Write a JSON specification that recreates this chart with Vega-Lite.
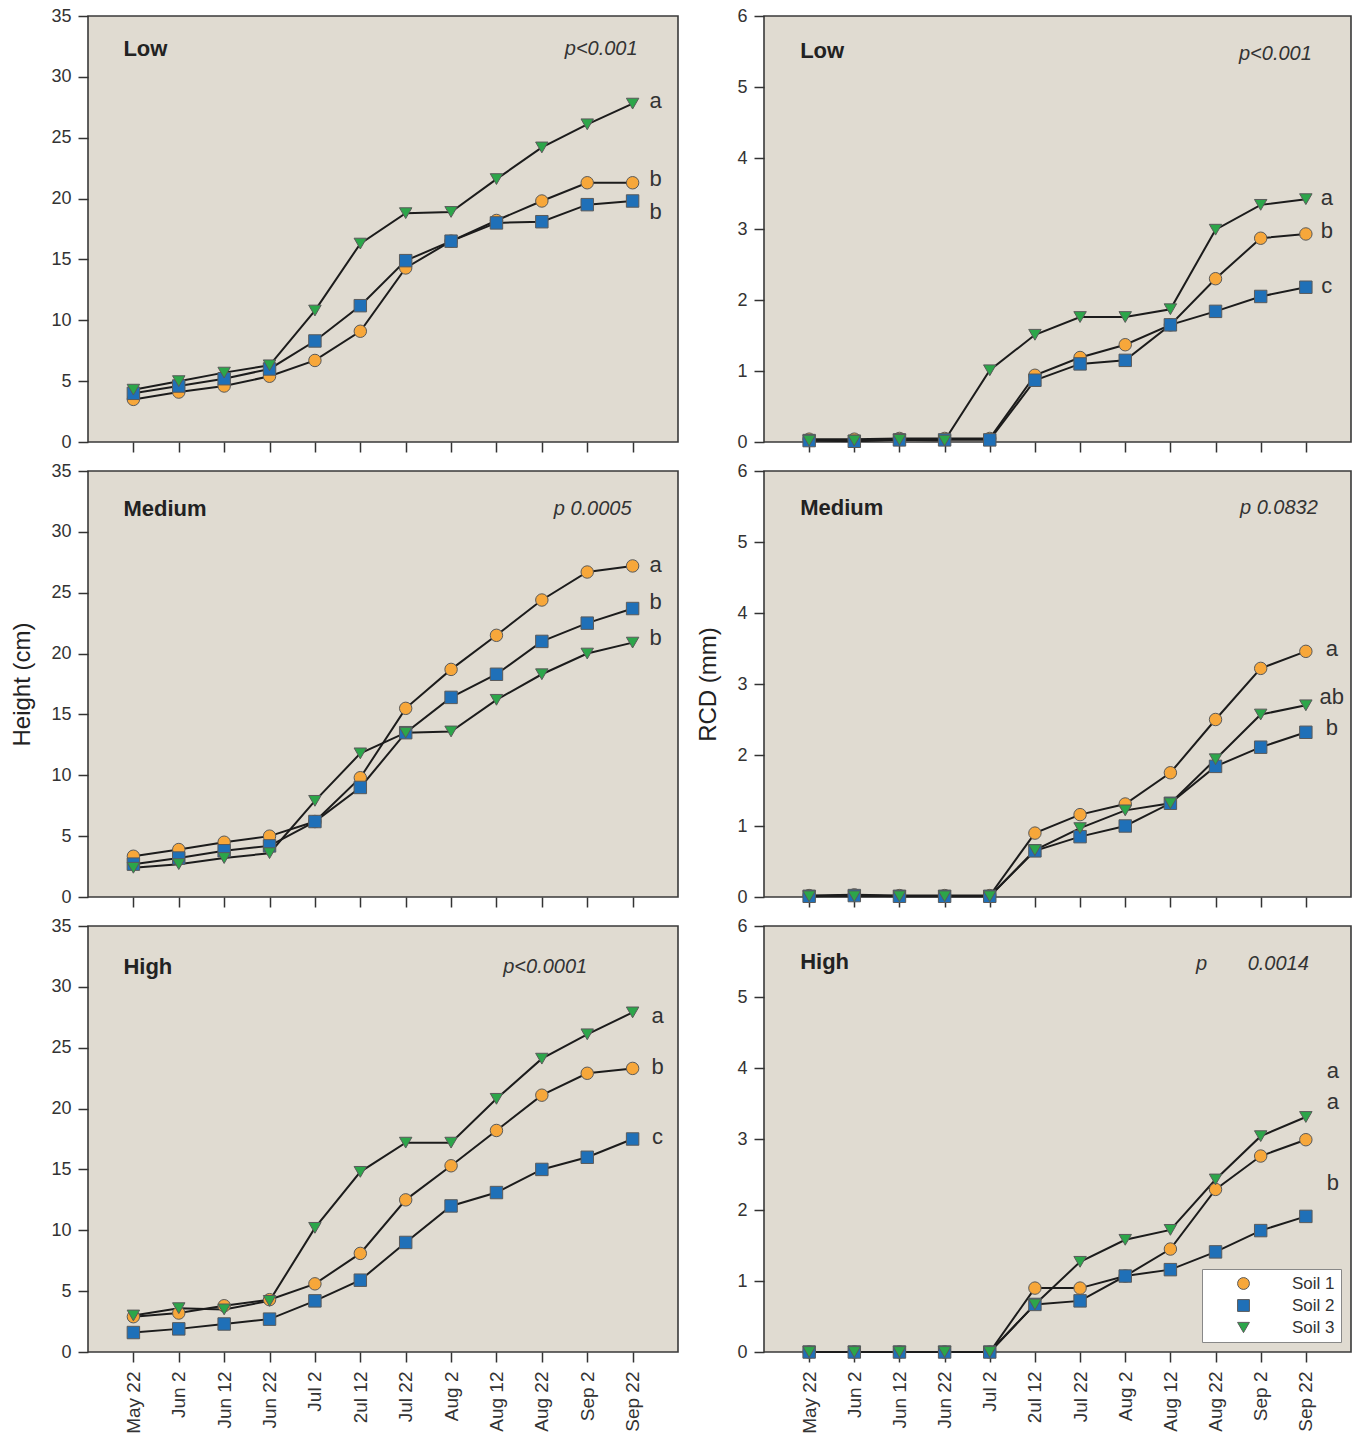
{
  "$schema": "https://vega.github.io/schema/vega-lite/v6.json",
  "background": "white",
  "padding": {"left": 10, "top": 6, "right": 5, "bottom": 2},
  "config": {
    "font": "Liberation Sans",
    "view": {"stroke": "#3a3a3a", "strokeWidth": 1.6, "fill": "#e0dbd1"},
    "axis": {"grid": false, "domain": false, "labelFontSize": 18, "labelColor": "#333", "tickColor": "#333", "tickSize": 10, "tickWidth": 1.5, "labelPadding": 7, "titleFontSize": 24, "titleFontWeight": "normal", "titleColor": "#222", "titlePadding": 16}
  },
  "datasets": {
    "series": [
      {"m":"Height","lvl":"Low","date":"May 22","Soil 1":3.5,"Soil 2":4.0,"Soil 3":4.3},
      {"m":"Height","lvl":"Low","date":"Jun 2","Soil 1":4.1,"Soil 2":4.6,"Soil 3":5.0},
      {"m":"Height","lvl":"Low","date":"Jun 12","Soil 1":4.6,"Soil 2":5.2,"Soil 3":5.7},
      {"m":"Height","lvl":"Low","date":"Jun 22","Soil 1":5.4,"Soil 2":6.0,"Soil 3":6.3},
      {"m":"Height","lvl":"Low","date":"Jul 2","Soil 1":6.7,"Soil 2":8.3,"Soil 3":10.8},
      {"m":"Height","lvl":"Low","date":"Jul 12","Soil 1":9.1,"Soil 2":11.2,"Soil 3":16.3},
      {"m":"Height","lvl":"Low","date":"Jul 22","Soil 1":14.3,"Soil 2":14.9,"Soil 3":18.8},
      {"m":"Height","lvl":"Low","date":"Aug 2","Soil 1":16.5,"Soil 2":16.5,"Soil 3":18.9},
      {"m":"Height","lvl":"Low","date":"Aug 12","Soil 1":18.2,"Soil 2":18.0,"Soil 3":21.6},
      {"m":"Height","lvl":"Low","date":"Aug 22","Soil 1":19.8,"Soil 2":18.1,"Soil 3":24.2},
      {"m":"Height","lvl":"Low","date":"Sep 2","Soil 1":21.3,"Soil 2":19.5,"Soil 3":26.1},
      {"m":"Height","lvl":"Low","date":"Sep 22","Soil 1":21.3,"Soil 2":19.8,"Soil 3":27.8},
      {"m":"Height","lvl":"Medium","date":"May 22","Soil 1":3.35,"Soil 2":2.7,"Soil 3":2.4},
      {"m":"Height","lvl":"Medium","date":"Jun 2","Soil 1":3.9,"Soil 2":3.2,"Soil 3":2.7},
      {"m":"Height","lvl":"Medium","date":"Jun 12","Soil 1":4.5,"Soil 2":3.8,"Soil 3":3.2},
      {"m":"Height","lvl":"Medium","date":"Jun 22","Soil 1":5.0,"Soil 2":4.2,"Soil 3":3.6},
      {"m":"Height","lvl":"Medium","date":"Jul 2","Soil 1":6.2,"Soil 2":6.2,"Soil 3":7.9},
      {"m":"Height","lvl":"Medium","date":"Jul 12","Soil 1":9.8,"Soil 2":9.0,"Soil 3":11.8},
      {"m":"Height","lvl":"Medium","date":"Jul 22","Soil 1":15.5,"Soil 2":13.5,"Soil 3":13.5},
      {"m":"Height","lvl":"Medium","date":"Aug 2","Soil 1":18.7,"Soil 2":16.4,"Soil 3":13.6},
      {"m":"Height","lvl":"Medium","date":"Aug 12","Soil 1":21.5,"Soil 2":18.3,"Soil 3":16.2},
      {"m":"Height","lvl":"Medium","date":"Aug 22","Soil 1":24.4,"Soil 2":21.0,"Soil 3":18.3},
      {"m":"Height","lvl":"Medium","date":"Sep 2","Soil 1":26.7,"Soil 2":22.5,"Soil 3":20.0},
      {"m":"Height","lvl":"Medium","date":"Sep 22","Soil 1":27.2,"Soil 2":23.7,"Soil 3":20.9},
      {"m":"Height","lvl":"High","date":"May 22","Soil 1":2.9,"Soil 2":1.6,"Soil 3":3.0},
      {"m":"Height","lvl":"High","date":"Jun 2","Soil 1":3.2,"Soil 2":1.9,"Soil 3":3.6},
      {"m":"Height","lvl":"High","date":"Jun 12","Soil 1":3.8,"Soil 2":2.3,"Soil 3":3.5},
      {"m":"Height","lvl":"High","date":"Jun 22","Soil 1":4.3,"Soil 2":2.7,"Soil 3":4.2},
      {"m":"Height","lvl":"High","date":"Jul 2","Soil 1":5.6,"Soil 2":4.2,"Soil 3":10.2},
      {"m":"Height","lvl":"High","date":"Jul 12","Soil 1":8.1,"Soil 2":5.9,"Soil 3":14.8},
      {"m":"Height","lvl":"High","date":"Jul 22","Soil 1":12.5,"Soil 2":9.0,"Soil 3":17.2},
      {"m":"Height","lvl":"High","date":"Aug 2","Soil 1":15.3,"Soil 2":12.0,"Soil 3":17.2},
      {"m":"Height","lvl":"High","date":"Aug 12","Soil 1":18.2,"Soil 2":13.1,"Soil 3":20.8},
      {"m":"Height","lvl":"High","date":"Aug 22","Soil 1":21.1,"Soil 2":15.0,"Soil 3":24.1},
      {"m":"Height","lvl":"High","date":"Sep 2","Soil 1":22.9,"Soil 2":16.0,"Soil 3":26.1},
      {"m":"Height","lvl":"High","date":"Sep 22","Soil 1":23.3,"Soil 2":17.5,"Soil 3":27.9},
      {"m":"RCD","lvl":"Low","date":"May 22","Soil 1":0.04,"Soil 2":0.02,"Soil 3":0.02},
      {"m":"RCD","lvl":"Low","date":"Jun 2","Soil 1":0.04,"Soil 2":0.01,"Soil 3":0.02},
      {"m":"RCD","lvl":"Low","date":"Jun 12","Soil 1":0.05,"Soil 2":0.03,"Soil 3":0.03},
      {"m":"RCD","lvl":"Low","date":"Jun 22","Soil 1":0.05,"Soil 2":0.03,"Soil 3":0.02},
      {"m":"RCD","lvl":"Low","date":"Jul 2","Soil 1":0.05,"Soil 2":0.03,"Soil 3":1.01},
      {"m":"RCD","lvl":"Low","date":"Jul 12","Soil 1":0.94,"Soil 2":0.87,"Soil 3":1.51},
      {"m":"RCD","lvl":"Low","date":"Jul 22","Soil 1":1.19,"Soil 2":1.10,"Soil 3":1.76},
      {"m":"RCD","lvl":"Low","date":"Aug 2","Soil 1":1.37,"Soil 2":1.15,"Soil 3":1.76},
      {"m":"RCD","lvl":"Low","date":"Aug 12","Soil 1":1.65,"Soil 2":1.65,"Soil 3":1.87},
      {"m":"RCD","lvl":"Low","date":"Aug 22","Soil 1":2.30,"Soil 2":1.84,"Soil 3":2.99},
      {"m":"RCD","lvl":"Low","date":"Sep 2","Soil 1":2.87,"Soil 2":2.05,"Soil 3":3.34},
      {"m":"RCD","lvl":"Low","date":"Sep 22","Soil 1":2.93,"Soil 2":2.18,"Soil 3":3.42},
      {"m":"RCD","lvl":"Medium","date":"May 22","Soil 1":0.02,"Soil 2":0.01,"Soil 3":0.01},
      {"m":"RCD","lvl":"Medium","date":"Jun 2","Soil 1":0.03,"Soil 2":0.02,"Soil 3":0.01},
      {"m":"RCD","lvl":"Medium","date":"Jun 12","Soil 1":0.02,"Soil 2":0.01,"Soil 3":0.01},
      {"m":"RCD","lvl":"Medium","date":"Jun 22","Soil 1":0.02,"Soil 2":0.01,"Soil 3":0.01},
      {"m":"RCD","lvl":"Medium","date":"Jul 2","Soil 1":0.02,"Soil 2":0.01,"Soil 3":0.01},
      {"m":"RCD","lvl":"Medium","date":"Jul 12","Soil 1":0.9,"Soil 2":0.65,"Soil 3":0.66},
      {"m":"RCD","lvl":"Medium","date":"Jul 22","Soil 1":1.16,"Soil 2":0.85,"Soil 3":0.97},
      {"m":"RCD","lvl":"Medium","date":"Aug 2","Soil 1":1.31,"Soil 2":1.0,"Soil 3":1.22},
      {"m":"RCD","lvl":"Medium","date":"Aug 12","Soil 1":1.75,"Soil 2":1.32,"Soil 3":1.32},
      {"m":"RCD","lvl":"Medium","date":"Aug 22","Soil 1":2.5,"Soil 2":1.84,"Soil 3":1.94},
      {"m":"RCD","lvl":"Medium","date":"Sep 2","Soil 1":3.22,"Soil 2":2.11,"Soil 3":2.57},
      {"m":"RCD","lvl":"Medium","date":"Sep 22","Soil 1":3.46,"Soil 2":2.32,"Soil 3":2.7},
      {"m":"RCD","lvl":"High","date":"May 22","Soil 1":0.0,"Soil 2":0.0,"Soil 3":0.0},
      {"m":"RCD","lvl":"High","date":"Jun 2","Soil 1":0.0,"Soil 2":0.0,"Soil 3":0.0},
      {"m":"RCD","lvl":"High","date":"Jun 12","Soil 1":0.0,"Soil 2":0.0,"Soil 3":0.0},
      {"m":"RCD","lvl":"High","date":"Jun 22","Soil 1":0.0,"Soil 2":0.0,"Soil 3":0.0},
      {"m":"RCD","lvl":"High","date":"Jul 2","Soil 1":0.0,"Soil 2":0.0,"Soil 3":0.0},
      {"m":"RCD","lvl":"High","date":"Jul 12","Soil 1":0.9,"Soil 2":0.67,"Soil 3":0.67},
      {"m":"RCD","lvl":"High","date":"Jul 22","Soil 1":0.9,"Soil 2":0.72,"Soil 3":1.27},
      {"m":"RCD","lvl":"High","date":"Aug 2","Soil 1":1.07,"Soil 2":1.07,"Soil 3":1.58},
      {"m":"RCD","lvl":"High","date":"Aug 12","Soil 1":1.45,"Soil 2":1.16,"Soil 3":1.72},
      {"m":"RCD","lvl":"High","date":"Aug 22","Soil 1":2.29,"Soil 2":1.41,"Soil 3":2.43},
      {"m":"RCD","lvl":"High","date":"Sep 2","Soil 1":2.76,"Soil 2":1.71,"Soil 3":3.04},
      {"m":"RCD","lvl":"High","date":"Sep 22","Soil 1":2.99,"Soil 2":1.91,"Soil 3":3.31}
    ],
    "notes": [
      {"m":"Height","lvl":"Low","k":"title","date":"May 22","value":32.3,"t":"Low"},
      {"m":"Height","lvl":"Low","k":"p","date":"Sep 22","value":32.3,"t":"p<0.001"},
      {"m":"Height","lvl":"Low","k":"letter","date":"Sep 22","value":28.0,"t":"a"},
      {"m":"Height","lvl":"Low","k":"letter","date":"Sep 22","value":21.6,"t":"b"},
      {"m":"Height","lvl":"Low","k":"letter","date":"Sep 22","value":18.9,"t":"b"},
      {"m":"Height","lvl":"Medium","k":"title","date":"May 22","value":31.9,"t":"Medium"},
      {"m":"Height","lvl":"Medium","k":"p","date":"Sep 22","value":31.9,"t":"p 0.0005"},
      {"m":"Height","lvl":"Medium","k":"letter","date":"Sep 22","value":27.3,"t":"a"},
      {"m":"Height","lvl":"Medium","k":"letter","date":"Sep 22","value":24.2,"t":"b"},
      {"m":"Height","lvl":"Medium","k":"letter","date":"Sep 22","value":21.3,"t":"b"},
      {"m":"Height","lvl":"High","k":"title","date":"May 22","value":31.6,"t":"High"},
      {"m":"Height","lvl":"High","k":"p","date":"Sep 2","value":31.6,"t":"p<0.0001"},
      {"m":"Height","lvl":"High","k":"letter","date":"Sep 22","value":27.6,"t":"a"},
      {"m":"Height","lvl":"High","k":"letter","date":"Sep 22","value":23.4,"t":"b"},
      {"m":"Height","lvl":"High","k":"letter","date":"Sep 22","value":17.7,"t":"c"},
      {"m":"RCD","lvl":"Low","k":"title","date":"May 22","value":5.51,"t":"Low"},
      {"m":"RCD","lvl":"Low","k":"p","date":"Sep 22","value":5.47,"t":"p<0.001"},
      {"m":"RCD","lvl":"Low","k":"letter","date":"Sep 22","value":3.43,"t":"a"},
      {"m":"RCD","lvl":"Low","k":"letter","date":"Sep 22","value":2.97,"t":"b"},
      {"m":"RCD","lvl":"Low","k":"letter","date":"Sep 22","value":2.2,"t":"c"},
      {"m":"RCD","lvl":"Medium","k":"title","date":"May 22","value":5.48,"t":"Medium"},
      {"m":"RCD","lvl":"Medium","k":"p","date":"Sep 22","value":5.48,"t":"p 0.0832"},
      {"m":"RCD","lvl":"Medium","k":"letter","date":"Sep 22","value":3.49,"t":"a"},
      {"m":"RCD","lvl":"Medium","k":"letter","date":"Sep 22","value":2.82,"t":"ab"},
      {"m":"RCD","lvl":"Medium","k":"letter","date":"Sep 22","value":2.38,"t":"b"},
      {"m":"RCD","lvl":"High","k":"title","date":"May 22","value":5.5,"t":"High"},
      {"m":"RCD","lvl":"High","k":"p0","date":"Aug 22","value":5.47,"t":"p"},
      {"m":"RCD","lvl":"High","k":"p","date":"Sep 22","value":5.47,"t":"0.0014"},
      {"m":"RCD","lvl":"High","k":"letter","date":"Sep 22","value":3.96,"t":"a"},
      {"m":"RCD","lvl":"High","k":"letter","date":"Sep 22","value":3.52,"t":"a"},
      {"m":"RCD","lvl":"High","k":"letter","date":"Sep 22","value":2.38,"t":"b"}
    ]
  },
  "spacing": 17,
  "resolve": {"legend": {"color": "independent", "shape": "independent"}},
  "hconcat": [
    {
      "spacing": 29,
      "bounds": "flush",
      "resolve": {"legend": {"color": "independent", "shape": "independent"}},
      "vconcat": [
        {
          "width": 590, "height": 426,
          "encoding": {
            "x": {"field": "date", "type": "ordinal", "sort": ["May 22","Jun 2","Jun 12","Jun 22","Jul 2","Jul 12","Jul 22","Aug 2","Aug 12","Aug 22","Sep 2","Sep 22"], "scale": {"type": "point", "padding": 1}, "axis": {"labels": false, "title": null}},
            "y": {"field": "value", "type": "quantitative", "scale": {"domain": [0, 35], "nice": false}, "axis": {"values": [0,5,10,15,20,25,30,35], "title": null}}
          },
          "layer": [
            {"data": {"name": "series"}, "transform": [{"filter": "datum.m === 'Height' && datum.lvl === 'Low'"}, {"fold": ["Soil 1","Soil 2","Soil 3"], "as": ["soil","value"]}],
             "layer": [
               {"mark": {"type": "line", "color": "#1c1c1c", "strokeWidth": 2}, "encoding": {"detail": {"field": "soil", "type": "nominal"}}},
               {"mark": {"type": "point", "filled": true, "size": 155, "stroke": "#5a5a5a", "strokeWidth": 1, "opacity": 1},
                "encoding": {"color": {"field": "soil", "type": "nominal", "scale": {"domain": ["Soil 1","Soil 2","Soil 3"], "range": ["#f7a73a","#1f70b8","#2ca64a"]}, "legend": null},
                             "shape": {"field": "soil", "type": "nominal", "scale": {"domain": ["Soil 1","Soil 2","Soil 3"], "range": ["circle","square","triangle-down"]}, "legend": null}}}
             ]},
            {"data": {"name": "notes"}, "transform": [{"filter": "datum.m === 'Height' && datum.lvl === 'Low' && datum.k === 'title'"}], "mark": {"type": "text", "align": "left", "dx": -10, "fontSize": 22, "fontWeight": "bold", "color": "#222"}, "encoding": {"text": {"field": "t"}}},
            {"data": {"name": "notes"}, "transform": [{"filter": "datum.m === 'Height' && datum.lvl === 'Low' && datum.k === 'p'"}], "mark": {"type": "text", "align": "right", "dx": 5, "fontSize": 20, "fontStyle": "italic", "color": "#333"}, "encoding": {"text": {"field": "t"}}},
            {"data": {"name": "notes"}, "transform": [{"filter": "datum.m === 'Height' && datum.lvl === 'Low' && datum.k === 'letter'"}], "mark": {"type": "text", "align": "center", "dx": 23, "fontSize": 22, "color": "#333"}, "encoding": {"text": {"field": "t"}}}
          ]
        },
        {
          "width": 590, "height": 426,
          "encoding": {
            "x": {"field": "date", "type": "ordinal", "sort": ["May 22","Jun 2","Jun 12","Jun 22","Jul 2","Jul 12","Jul 22","Aug 2","Aug 12","Aug 22","Sep 2","Sep 22"], "scale": {"type": "point", "padding": 1}, "axis": {"labels": false, "title": null}},
            "y": {"field": "value", "type": "quantitative", "scale": {"domain": [0, 35], "nice": false}, "axis": {"values": [0,5,10,15,20,25,30,35], "title": "Height (cm)"}}
          },
          "layer": [
            {"data": {"name": "series"}, "transform": [{"filter": "datum.m === 'Height' && datum.lvl === 'Medium'"}, {"fold": ["Soil 1","Soil 2","Soil 3"], "as": ["soil","value"]}],
             "layer": [
               {"mark": {"type": "line", "color": "#1c1c1c", "strokeWidth": 2}, "encoding": {"detail": {"field": "soil", "type": "nominal"}}},
               {"mark": {"type": "point", "filled": true, "size": 155, "stroke": "#5a5a5a", "strokeWidth": 1, "opacity": 1},
                "encoding": {"color": {"field": "soil", "type": "nominal", "scale": {"domain": ["Soil 1","Soil 2","Soil 3"], "range": ["#f7a73a","#1f70b8","#2ca64a"]}, "legend": null},
                             "shape": {"field": "soil", "type": "nominal", "scale": {"domain": ["Soil 1","Soil 2","Soil 3"], "range": ["circle","square","triangle-down"]}, "legend": null}}}
             ]},
            {"data": {"name": "notes"}, "transform": [{"filter": "datum.m === 'Height' && datum.lvl === 'Medium' && datum.k === 'title'"}], "mark": {"type": "text", "align": "left", "dx": -10, "fontSize": 22, "fontWeight": "bold", "color": "#222"}, "encoding": {"text": {"field": "t"}}},
            {"data": {"name": "notes"}, "transform": [{"filter": "datum.m === 'Height' && datum.lvl === 'Medium' && datum.k === 'p'"}], "mark": {"type": "text", "align": "right", "dx": -1, "fontSize": 20, "fontStyle": "italic", "color": "#333"}, "encoding": {"text": {"field": "t"}}},
            {"data": {"name": "notes"}, "transform": [{"filter": "datum.m === 'Height' && datum.lvl === 'Medium' && datum.k === 'letter'"}], "mark": {"type": "text", "align": "center", "dx": 23, "fontSize": 22, "color": "#333"}, "encoding": {"text": {"field": "t"}}}
          ]
        },
        {
          "width": 590, "height": 426,
          "encoding": {
            "x": {"field": "date", "type": "ordinal", "sort": ["May 22","Jun 2","Jun 12","Jun 22","Jul 2","Jul 12","Jul 22","Aug 2","Aug 12","Aug 22","Sep 2","Sep 22"], "scale": {"type": "point", "padding": 1}, "axis": {"title": null, "labelAngle": -90, "labelFontSize": 19, "labelPadding": 9, "labelExpr": "datum.label === 'Jul 12' ? '2ul 12' : datum.label"}},
            "y": {"field": "value", "type": "quantitative", "scale": {"domain": [0, 35], "nice": false}, "axis": {"values": [0,5,10,15,20,25,30,35], "title": null}}
          },
          "layer": [
            {"data": {"name": "series"}, "transform": [{"filter": "datum.m === 'Height' && datum.lvl === 'High'"}, {"fold": ["Soil 1","Soil 2","Soil 3"], "as": ["soil","value"]}],
             "layer": [
               {"mark": {"type": "line", "color": "#1c1c1c", "strokeWidth": 2}, "encoding": {"detail": {"field": "soil", "type": "nominal"}}},
               {"mark": {"type": "point", "filled": true, "size": 155, "stroke": "#5a5a5a", "strokeWidth": 1, "opacity": 1},
                "encoding": {"color": {"field": "soil", "type": "nominal", "scale": {"domain": ["Soil 1","Soil 2","Soil 3"], "range": ["#f7a73a","#1f70b8","#2ca64a"]}, "legend": null},
                             "shape": {"field": "soil", "type": "nominal", "scale": {"domain": ["Soil 1","Soil 2","Soil 3"], "range": ["circle","square","triangle-down"]}, "legend": null}}}
             ]},
            {"data": {"name": "notes"}, "transform": [{"filter": "datum.m === 'Height' && datum.lvl === 'High' && datum.k === 'title'"}], "mark": {"type": "text", "align": "left", "dx": -10, "fontSize": 22, "fontWeight": "bold", "color": "#222"}, "encoding": {"text": {"field": "t"}}},
            {"data": {"name": "notes"}, "transform": [{"filter": "datum.m === 'Height' && datum.lvl === 'High' && datum.k === 'p'"}], "mark": {"type": "text", "align": "right", "dx": 0, "fontSize": 20, "fontStyle": "italic", "color": "#333"}, "encoding": {"text": {"field": "t"}}},
            {"data": {"name": "notes"}, "transform": [{"filter": "datum.m === 'Height' && datum.lvl === 'High' && datum.k === 'letter'"}], "mark": {"type": "text", "align": "center", "dx": 25, "fontSize": 22, "color": "#333"}, "encoding": {"text": {"field": "t"}}}
          ]
        }
      ]
    },
    {
      "spacing": 29,
      "bounds": "flush",
      "resolve": {"legend": {"color": "independent", "shape": "independent"}},
      "vconcat": [
        {
          "width": 587, "height": 426,
          "encoding": {
            "x": {"field": "date", "type": "ordinal", "sort": ["May 22","Jun 2","Jun 12","Jun 22","Jul 2","Jul 12","Jul 22","Aug 2","Aug 12","Aug 22","Sep 2","Sep 22"], "scale": {"type": "point", "padding": 1}, "axis": {"labels": false, "title": null}},
            "y": {"field": "value", "type": "quantitative", "scale": {"domain": [0, 6], "nice": false}, "axis": {"values": [0,1,2,3,4,5,6], "title": null}}
          },
          "layer": [
            {"data": {"name": "series"}, "transform": [{"filter": "datum.m === 'RCD' && datum.lvl === 'Low'"}, {"fold": ["Soil 1","Soil 2","Soil 3"], "as": ["soil","value"]}],
             "layer": [
               {"mark": {"type": "line", "color": "#1c1c1c", "strokeWidth": 2}, "encoding": {"detail": {"field": "soil", "type": "nominal"}}},
               {"mark": {"type": "point", "filled": true, "size": 155, "stroke": "#5a5a5a", "strokeWidth": 1, "opacity": 1},
                "encoding": {"color": {"field": "soil", "type": "nominal", "scale": {"domain": ["Soil 1","Soil 2","Soil 3"], "range": ["#f7a73a","#1f70b8","#2ca64a"]}, "legend": null},
                             "shape": {"field": "soil", "type": "nominal", "scale": {"domain": ["Soil 1","Soil 2","Soil 3"], "range": ["circle","square","triangle-down"]}, "legend": null}}}
             ]},
            {"data": {"name": "notes"}, "transform": [{"filter": "datum.m === 'RCD' && datum.lvl === 'Low' && datum.k === 'title'"}], "mark": {"type": "text", "align": "left", "dx": -9, "fontSize": 22, "fontWeight": "bold", "color": "#222"}, "encoding": {"text": {"field": "t"}}},
            {"data": {"name": "notes"}, "transform": [{"filter": "datum.m === 'RCD' && datum.lvl === 'Low' && datum.k === 'p'"}], "mark": {"type": "text", "align": "right", "dx": 6, "fontSize": 20, "fontStyle": "italic", "color": "#333"}, "encoding": {"text": {"field": "t"}}},
            {"data": {"name": "notes"}, "transform": [{"filter": "datum.m === 'RCD' && datum.lvl === 'Low' && datum.k === 'letter'"}], "mark": {"type": "text", "align": "center", "dx": 21, "fontSize": 22, "color": "#333"}, "encoding": {"text": {"field": "t"}}}
          ]
        },
        {
          "width": 587, "height": 426,
          "encoding": {
            "x": {"field": "date", "type": "ordinal", "sort": ["May 22","Jun 2","Jun 12","Jun 22","Jul 2","Jul 12","Jul 22","Aug 2","Aug 12","Aug 22","Sep 2","Sep 22"], "scale": {"type": "point", "padding": 1}, "axis": {"labels": false, "title": null}},
            "y": {"field": "value", "type": "quantitative", "scale": {"domain": [0, 6], "nice": false}, "axis": {"values": [0,1,2,3,4,5,6], "title": "RCD (mm)"}}
          },
          "layer": [
            {"data": {"name": "series"}, "transform": [{"filter": "datum.m === 'RCD' && datum.lvl === 'Medium'"}, {"fold": ["Soil 1","Soil 2","Soil 3"], "as": ["soil","value"]}],
             "layer": [
               {"mark": {"type": "line", "color": "#1c1c1c", "strokeWidth": 2}, "encoding": {"detail": {"field": "soil", "type": "nominal"}}},
               {"mark": {"type": "point", "filled": true, "size": 155, "stroke": "#5a5a5a", "strokeWidth": 1, "opacity": 1},
                "encoding": {"color": {"field": "soil", "type": "nominal", "scale": {"domain": ["Soil 1","Soil 2","Soil 3"], "range": ["#f7a73a","#1f70b8","#2ca64a"]}, "legend": null},
                             "shape": {"field": "soil", "type": "nominal", "scale": {"domain": ["Soil 1","Soil 2","Soil 3"], "range": ["circle","square","triangle-down"]}, "legend": null}}}
             ]},
            {"data": {"name": "notes"}, "transform": [{"filter": "datum.m === 'RCD' && datum.lvl === 'Medium' && datum.k === 'title'"}], "mark": {"type": "text", "align": "left", "dx": -9, "fontSize": 22, "fontWeight": "bold", "color": "#222"}, "encoding": {"text": {"field": "t"}}},
            {"data": {"name": "notes"}, "transform": [{"filter": "datum.m === 'RCD' && datum.lvl === 'Medium' && datum.k === 'p'"}], "mark": {"type": "text", "align": "right", "dx": 12, "fontSize": 20, "fontStyle": "italic", "color": "#333"}, "encoding": {"text": {"field": "t"}}},
            {"data": {"name": "notes"}, "transform": [{"filter": "datum.m === 'RCD' && datum.lvl === 'Medium' && datum.k === 'letter'"}], "mark": {"type": "text", "align": "center", "dx": 26, "fontSize": 22, "color": "#333"}, "encoding": {"text": {"field": "t"}}}
          ]
        },
        {
          "width": 587, "height": 426,
          "encoding": {
            "x": {"field": "date", "type": "ordinal", "sort": ["May 22","Jun 2","Jun 12","Jun 22","Jul 2","Jul 12","Jul 22","Aug 2","Aug 12","Aug 22","Sep 2","Sep 22"], "scale": {"type": "point", "padding": 1}, "axis": {"title": null, "labelAngle": -90, "labelFontSize": 19, "labelPadding": 9, "labelExpr": "datum.label === 'Jul 12' ? '2ul 12' : datum.label"}},
            "y": {"field": "value", "type": "quantitative", "scale": {"domain": [0, 6], "nice": false}, "axis": {"values": [0,1,2,3,4,5,6], "title": null}}
          },
          "layer": [
            {"data": {"name": "series"}, "transform": [{"filter": "datum.m === 'RCD' && datum.lvl === 'High'"}, {"fold": ["Soil 1","Soil 2","Soil 3"], "as": ["soil","value"]}],
             "layer": [
               {"mark": {"type": "line", "color": "#1c1c1c", "strokeWidth": 2}, "encoding": {"detail": {"field": "soil", "type": "nominal"}}},
               {"mark": {"type": "point", "filled": true, "size": 155, "stroke": "#5a5a5a", "strokeWidth": 1, "opacity": 1},
                "encoding": {"color": {"field": "soil", "type": "nominal", "scale": {"domain": ["Soil 1","Soil 2","Soil 3"], "range": ["#f7a73a","#1f70b8","#2ca64a"]}, "legend": {"title": null, "orient": "bottom-right", "offset": 10, "fillColor": "white", "strokeColor": "#888", "padding": 6, "labelFontSize": 17, "labelColor": "#333", "symbolOffset": 27, "labelOffset": 40, "rowPadding": 4, "symbolSize": 140, "symbolStrokeWidth": 1}},
                             "shape": {"field": "soil", "type": "nominal", "scale": {"domain": ["Soil 1","Soil 2","Soil 3"], "range": ["circle","square","triangle-down"]}, "legend": {"title": null, "orient": "bottom-right", "offset": 10, "fillColor": "white", "strokeColor": "#888", "padding": 6, "labelFontSize": 17, "labelColor": "#333", "symbolOffset": 27, "labelOffset": 40, "rowPadding": 4, "symbolSize": 140, "symbolStrokeWidth": 1}}}}
             ]},
            {"data": {"name": "notes"}, "transform": [{"filter": "datum.m === 'RCD' && datum.lvl === 'High' && datum.k === 'title'"}], "mark": {"type": "text", "align": "left", "dx": -9, "fontSize": 22, "fontWeight": "bold", "color": "#222"}, "encoding": {"text": {"field": "t"}}},
            {"data": {"name": "notes"}, "transform": [{"filter": "datum.m === 'RCD' && datum.lvl === 'High' && datum.k === 'p0'"}], "mark": {"type": "text", "align": "center", "dx": -14, "fontSize": 20, "fontStyle": "italic", "color": "#333"}, "encoding": {"text": {"field": "t"}}},
            {"data": {"name": "notes"}, "transform": [{"filter": "datum.m === 'RCD' && datum.lvl === 'High' && datum.k === 'p'"}], "mark": {"type": "text", "align": "right", "dx": 3, "fontSize": 20, "fontStyle": "italic", "color": "#333"}, "encoding": {"text": {"field": "t"}}},
            {"data": {"name": "notes"}, "transform": [{"filter": "datum.m === 'RCD' && datum.lvl === 'High' && datum.k === 'letter'"}], "mark": {"type": "text", "align": "center", "dx": 27, "fontSize": 22, "color": "#333"}, "encoding": {"text": {"field": "t"}}}
          ]
        }
      ]
    }
  ]
}
